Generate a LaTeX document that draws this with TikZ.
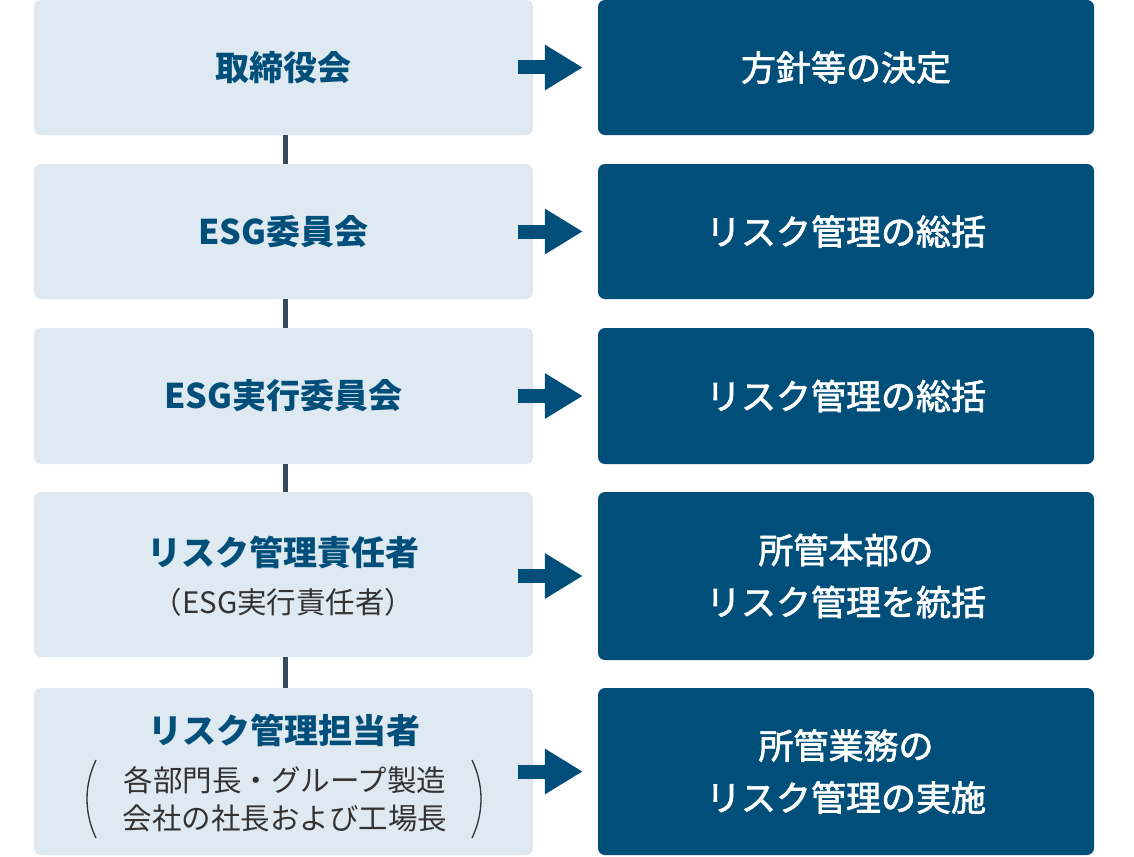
\documentclass[tikz,border=0pt]{standalone}
\usepackage{fontspec}
\setmainfont{Noto Sans CJK JP}
\newfontfamily\medfont{Noto Sans CJK JP}[FakeBold=2]
\usetikzlibrary{arrows.meta}
\definecolor{lightbg}{HTML}{DFE9F2}
\definecolor{darkbg}{HTML}{004F7A}
\definecolor{subtxt}{HTML}{333333}
\definecolor{linkc}{HTML}{344A5C}
\tikzset{
  lbox/.style={fill=lightbg, rounded corners=7pt, inner sep=0pt, minimum width=499pt,
    text=darkbg, font=\fontsize{34}{40}\selectfont\bfseries},
  rbox/.style={fill=darkbg, rounded corners=7pt, inner sep=0pt, minimum width=496pt,
    text=white, align=center, font=\medfont\fontsize{35}{52}\selectfont},
  ttl/.style={inner sep=0pt, text=darkbg, font=\fontsize{34}{40}\selectfont\bfseries},
  sub/.style={inner sep=0pt, text=subtxt, align=center, font=\fontsize{29.5}{38}\selectfont},
  blockarrow/.style={draw=darkbg, line width=14pt, -{Triangle[length=38pt,width=43pt]}},
  link/.style={draw=linkc, line width=5pt},
  paren/.style={draw=subtxt, line width=1.3pt}
}
\begin{document}
\begin{tikzpicture}[x=1pt,y=-1pt]
\useasboundingbox (0,0) rectangle (1134,856);
% left boxes
\node[lbox, minimum height=135pt] (l1) at (283.5,67.5) {取締役会};
\node[lbox, minimum height=135pt] (l2) at (283.5,231.5) {ESG委員会};
\node[lbox, minimum height=136pt] (l3) at (283.5,396) {ESG実行委員会};
\node[lbox, minimum height=165pt] (l4) at (283.5,574.5) {};
\node[lbox, minimum height=167pt] (l5) at (283.5,771.5) {};
% left texts for rows 4 and 5
\node[ttl] (t4) at (283.5,552) {リスク管理責任者};
\node[sub] (s4) at (283.5,602) {（ESG実行責任者）};
\node[ttl] (t5) at (284,730) {リスク管理担当者};
\node[sub] (s5) at (285,799) {各部門長・グループ製造\\会社の社長および工場長};
\coordinate (lp1) at (96,760);
\coordinate (lp2) at (96,838);
\coordinate (rp1) at (472,760);
\coordinate (rp2) at (472,838);
\draw[paren] (lp1) .. controls (84,785) and (84,813) .. (lp2);
\draw[paren] (rp1) .. controls (484,785) and (484,813) .. (rp2);
% right boxes
\node[rbox, minimum height=135pt] (r1) at (846,67.5) {方針等の決定};
\node[rbox, minimum height=135pt] (r2) at (846,231.5) {リスク管理の総括};
\node[rbox, minimum height=136pt] (r3) at (846,396) {リスク管理の総括};
\node[rbox, minimum height=168pt] (r4) at (846,576) {所管本部の\\リスク管理を統括};
\node[rbox, minimum height=167pt] (r5) at (846,771.5) {所管業務の\\リスク管理の実施};
% vertical links
\foreach \a/\b in {l1/l2,l2/l3,l3/l4,l4/l5}{
  \draw[link] ([xshift=2pt]\a.south) -- ([xshift=2pt]\b.north);
}
% block arrows
\foreach \i in {1,...,5}{
  \draw[blockarrow] ([xshift=-15pt]l\i.east |- r\i.west) -- ([xshift=-15pt]r\i.west);
}
\end{tikzpicture}
\end{document}
